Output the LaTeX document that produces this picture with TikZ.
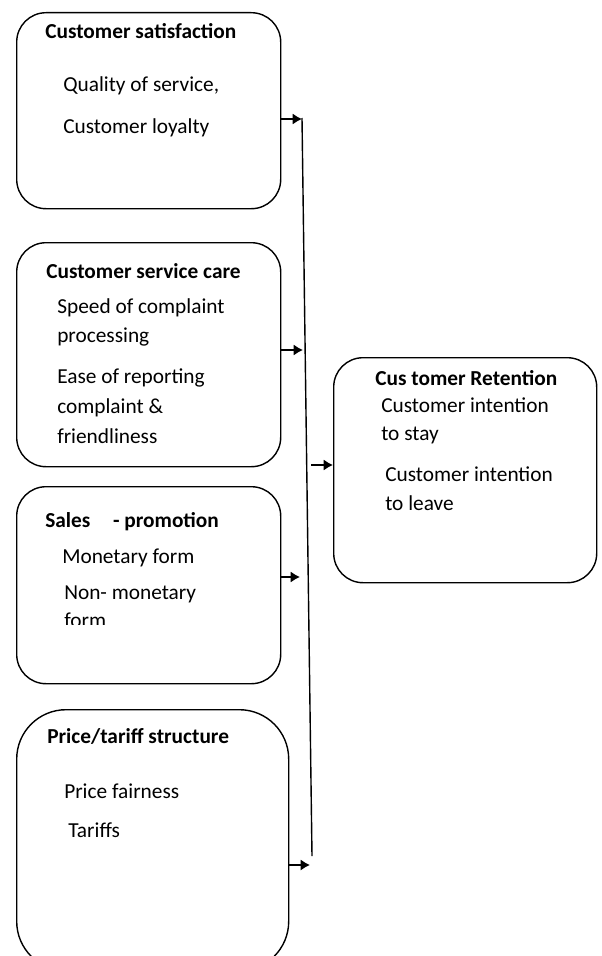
\documentclass[tikz,border=0pt]{standalone}
\usepackage{fontspec}
\setmainfont{Carlito}
\usetikzlibrary{arrows.meta}
\begin{document}
\begin{tikzpicture}[x=0.75pt,y=-0.75pt,
    box/.style={draw,line width=1.05pt,rounded corners=22pt,anchor=north west,inner sep=0pt},
    item/.style={anchor=base west,inner sep=0pt,font=\fontsize{16}{19}\selectfont},
    head/.style={item,font=\fontsize{16}{19}\selectfont\bfseries},
    arr/.style={-{Latex[length=7pt,width=8.5pt]},line width=1.4pt}]
	\useasboundingbox (0,0) rectangle (601,956);
	
	% factor boxes
	\node[box,minimum width=198pt,minimum height=147pt] (sat) at (16,12) {};
	\node[box,minimum width=198pt,minimum height=168pt] (care) at (16,242) {};
	\node[box,minimum width=198pt,minimum height=147.75pt] (promo) at (16,486) {};
	\node[box,minimum width=204pt,minimum height=195.75pt,rounded corners=37pt] (price) at (16,709) {};
	\node[box,minimum width=197.25pt,minimum height=168.75pt] (ret) at (333,357) {};
	
	% texts
	\node[head] (satH) at (45,39) {Customer satisfaction};
	\node[item] (satA) at (63,92) {Quality of service,};
	\node[item] (satB) at (63,133) {Customer loyalty};
	
	\node[head] (careH) at (46,278) {Customer service care};
	\node[item] (careA) at (57,313) {Speed of complaint};
	\node[item] (careB) at (57,342) {processing};
	\node[item] (careC) at (57,383) {Ease of reporting};
	\node[item] (careD) at (57,413) {complaint \&};
	\node[item] (careE) at (57,443) {friendliness};
	
	\node[head] (promoH) at (45,527) {Sales\hspace*{17pt}- promotion};
	\node[item] (promoA) at (62,563) {Monetary form};
	\node[item] (promoB) at (64,599) {Non- monetary};
	\begin{scope}
		\clip (40,600) rectangle (200,624);
		\node[item] (promoC) at (64,627) {form};
	\end{scope}
	
	\node[head] (priceH) at (47,743) {Price/tariff structure};
	\node[item] (priceA) at (64,798) {Price fairness};
	\node[item] (priceB) at (68,837) {Tariffs};
	
	\node[head] (retH) at (375,385) {Cus tomer Retention};
	\node[item] (retA) at (381,412) {Customer intention};
	\node[item] (retB) at (381,440) {to stay};
	\node[item] (retC) at (385,481) {Customer intention};
	\node[item] (retD) at (385,510) {to leave};
	
	% collecting line and arrows
	\coordinate (bustop) at (302,118);
	\coordinate (busbot) at (312,856);
	\draw[line width=1.05pt] (bustop) -- (busbot);
	
	\coordinate (t1) at (302,119);
	\coordinate (t2) at (303,350);
	\coordinate (t3) at (300,577);
	\coordinate (t4) at (310,865);
	\coordinate (s5) at (311,465);
	\draw[arr] (sat.east |- t1) -- (t1);
	\draw[arr] (care.east |- t2) -- (t2);
	\draw[arr] (promo.east |- t3) -- (t3);
	\draw[arr] (price.east |- t4) -- (t4);
	\draw[arr] (s5) -- (ret.west |- s5);
\end{tikzpicture}
\end{document}
